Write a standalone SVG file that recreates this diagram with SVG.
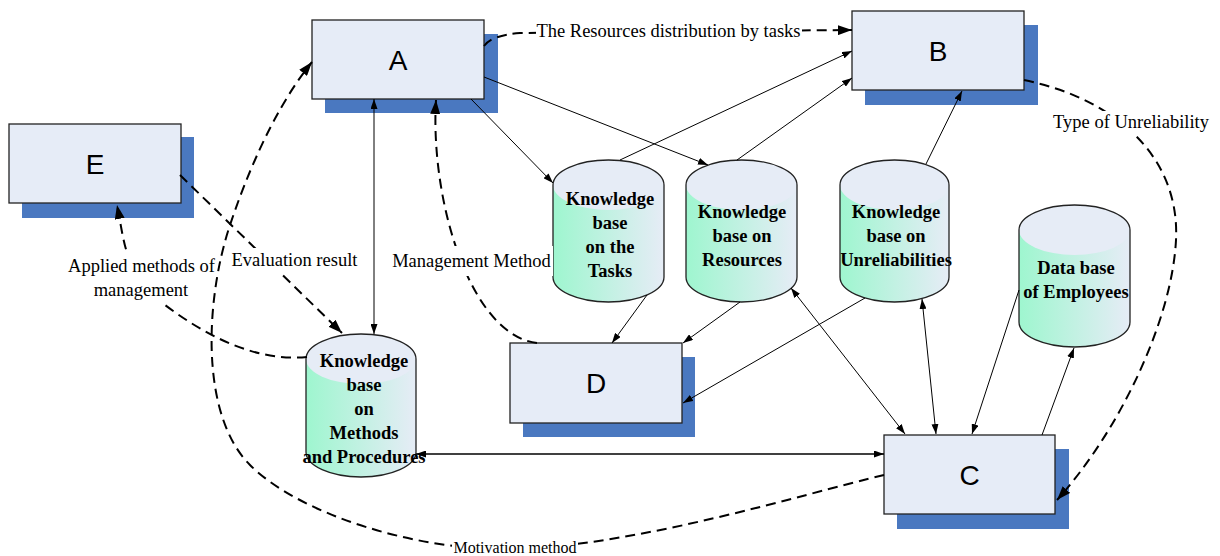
<svg xmlns="http://www.w3.org/2000/svg" width="1220" height="556" viewBox="0 0 1220 556">
<style>
.sh{fill:#4a78c0}
.bx{fill:#e6ecf7;stroke:#222;stroke-width:1.3}
.bl{font-family:"Liberation Sans",Arial,sans-serif;font-size:28px;text-anchor:middle;fill:#000}
.body{fill:url(#cg);stroke:none}
.cap{fill:#e6ecf6;stroke:none}
.ol{fill:none;stroke:#222;stroke-width:1.3}
.ct{font-family:"Liberation Serif","Times New Roman",serif;font-weight:bold;font-size:18.5px;text-anchor:middle;fill:#000}
.s{fill:none;stroke:#000;stroke-width:1;marker-end:url(#ah)}
.s2{marker-start:url(#ah)}
.d{fill:none;stroke:#000;stroke-width:2;stroke-dasharray:10 6;marker-end:url(#ahd)}
.lt{font-family:"Liberation Serif","Times New Roman",serif;font-size:18.5px;text-anchor:middle;fill:#000}
.wb{fill:#fff;stroke:none}
</style>
<defs>
<linearGradient id="cg" x1="0" y1="0" x2="1" y2="0">
<stop offset="0" stop-color="#9ef6cf"/>
<stop offset="1" stop-color="#e6ecf6"/>
</linearGradient>
<marker id="ah" viewBox="0 0 10 7" refX="10" refY="3.5" markerWidth="10" markerHeight="7" markerUnits="userSpaceOnUse" orient="auto-start-reverse">
<path d="M0,0 L10,3.5 L0,7 z" fill="#000"/>
</marker>
<marker id="ahd" viewBox="0 0 14 10" refX="14" refY="5" markerWidth="14" markerHeight="10" markerUnits="userSpaceOnUse" orient="auto">
<path d="M0,0 L14,5 L0,10 z" fill="#000"/>
</marker>
</defs>
<rect width="1220" height="556" fill="#fff"/>

<g id="A"><rect class="sh" x="325" y="34" width="173" height="79"/><rect class="bx" x="312" y="20" width="172" height="79"/><text class="bl" x="398" y="70">A</text></g>
<g id="B"><rect class="sh" x="865" y="25" width="173" height="80"/><rect class="bx" x="852" y="11" width="172" height="79"/><text class="bl" x="938" y="61">B</text></g>
<g id="E"><rect class="sh" x="22" y="137" width="172" height="81"/><rect class="bx" x="9" y="124" width="172" height="79"/><text class="bl" x="95" y="174">E</text></g>
<g id="D"><rect class="sh" x="523" y="357" width="172" height="80"/><rect class="bx" x="510" y="343" width="172" height="80"/><text class="bl" x="596" y="393">D</text></g>
<g id="C"><rect class="sh" x="897" y="449" width="172" height="80"/><rect class="bx" x="884" y="435" width="171" height="79"/><text class="bl" x="969.5" y="485">C</text></g>

<g id="kb-tasks">
<path class="body" d="M553,185 A55.5,25 0 0 1 664,185 L664,277 A55.5,25 0 0 1 553,277 Z"/>
<ellipse class="cap" cx="608.5" cy="185" rx="55.5" ry="25"/>
<path class="ol" d="M553,185 A55.5,25 0 0 1 664,185 L664,277 A55.5,25 0 0 1 553,277 Z"/>
<text class="ct" x="610" y="205">Knowledge</text><text class="ct" x="610" y="229">base</text><text class="ct" x="610" y="253">on the</text><text class="ct" x="610" y="277">Tasks</text>
</g>
<g id="kb-resources">
<path class="body" d="M686,185 A55.5,25 0 0 1 797,185 L797,277 A55.5,25 0 0 1 686,277 Z"/>
<ellipse class="cap" cx="741.5" cy="185" rx="55.5" ry="25"/>
<path class="ol" d="M686,185 A55.5,25 0 0 1 797,185 L797,277 A55.5,25 0 0 1 686,277 Z"/>
<text class="ct" x="742" y="218">Knowledge</text><text class="ct" x="742" y="242">base on</text><text class="ct" x="742" y="266">Resources</text>
</g>
<g id="kb-unreliabilities">
<path class="body" d="M840,185 A54.5,25 0 0 1 949,185 L949,277 A54.5,25 0 0 1 840,277 Z"/>
<ellipse class="cap" cx="894.5" cy="185" rx="54.5" ry="25"/>
<path class="ol" d="M840,185 A54.5,25 0 0 1 949,185 L949,277 A54.5,25 0 0 1 840,277 Z"/>
<text class="ct" x="896" y="218">Knowledge</text><text class="ct" x="896" y="242">base on</text><text class="ct" x="896" y="266">Unreliabilities</text>
</g>
<g id="db-employees">
<path class="body" d="M1019,230 A55.5,25 0 0 1 1130,230 L1130,322 A55.5,25 0 0 1 1019,322 Z"/>
<ellipse class="cap" cx="1074.5" cy="230" rx="55.5" ry="25"/>
<path class="ol" d="M1019,230 A55.5,25 0 0 1 1130,230 L1130,322 A55.5,25 0 0 1 1019,322 Z"/>
<text class="ct" x="1076" y="274">Data base</text><text class="ct" x="1076" y="298">of Employees</text>
</g>
<g id="kb-methods">
<path class="body" d="M306,359 A55,25 0 0 1 416,359 L416,452 A55,25 0 0 1 306,452 Z"/>
<ellipse class="cap" cx="361" cy="359" rx="55" ry="25"/>
<path class="ol" d="M306,359 A55,25 0 0 1 416,359 L416,452 A55,25 0 0 1 306,452 Z"/>
<text class="ct" x="364" y="367">Knowledge</text><text class="ct" x="364" y="391">base</text><text class="ct" x="364" y="415">on</text><text class="ct" x="364" y="439">Methods</text><text class="ct" x="364" y="463">and Procedures</text>
</g>

<g id="connectors">
<path class="s" d="M471,99 L553,183"/>
<path class="s" d="M484,77 L708,165"/>
<path class="s" d="M620,160 L852,51"/>
<path class="s" d="M737,160 L852,78"/>
<path class="s" d="M926,164 L962,91"/>
<path class="s s2" d="M374,99 L374,334"/>
<path class="s s2" style="stroke-width:1.3" d="M416,454 L884,454"/>
<path class="s s2" d="M791,288 L905,434"/>
<path class="s s2" d="M922,299 L936,434"/>
<path class="s" d="M1019,290 L972,434"/>
<path class="s" d="M1042,435 L1074,348"/>
<path class="s" d="M865,298 L683,403"/>
<path class="s" d="M647,295 L612,343"/>
<path class="s" d="M740,302 L683,343"/>

<path class="d" d="M484,46 Q492,35 520,33 L852,30"/>
<path class="d" d="M537,343 C470,335 430,200 436,100"/>
<path class="d" d="M180,175 L342,333"/>
<path class="d" d="M307,357 C255,362 205,335 165,305 S125,245 117,205"/>
<path class="d" d="M884,475 C800,495 640,545 515,549 C420,552 300,515 250,465 C200,415 205,300 230,225 C255,150 285,95 312,62"/>
<path class="d" d="M1024,80 C1120,100 1180,160 1176,240 C1172,320 1120,430 1057,500"/>

<rect class="wb" x="536" y="22" width="266" height="20"/>
<text class="lt" x="668.5" y="37">The Resources distribution by tasks</text>
<rect class="wb" x="1050" y="111" width="162" height="24"/>
<text class="lt" x="1131" y="128">Type of Unreliability</text>
<rect class="wb" x="229" y="248" width="131" height="24"/>
<text class="lt" x="294.5" y="266">Evaluation result</text>
<rect class="wb" x="390" y="246" width="163" height="30"/>
<text class="lt" x="471.5" y="267">Management Method</text>
<rect class="wb" x="66" y="250" width="140" height="54"/>
<text class="lt" x="141.5" y="272">Applied methods of</text>
<text class="lt" x="141" y="296">management</text>
<rect class="wb" x="452" y="538" width="126" height="18"/>
<text class="lt" style="font-size:16px" x="515" y="553">Motivation method</text>
</g>
</svg>
